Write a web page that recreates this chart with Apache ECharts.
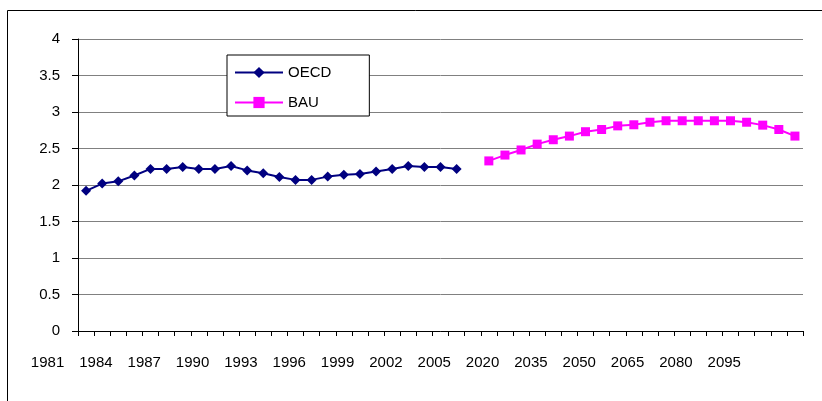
<!DOCTYPE html>
<html>
<head>
<meta charset="utf-8">
<script src="https://cdn.jsdelivr.net/npm/echarts@6/dist/echarts.min.js"></script>
<style>
html,body{margin:0;padding:0;background:#fff;}
#c{width:822px;height:401px;}
</style>
</head>
<body>
<div id="c"></div>
<script>
var categories = ['1981','1982','1983','1984','1985','1986','1987','1988','1989','1990',
  '1991','1992','1993','1994','1995','1996','1997','1998','1999','2000',
  '2001','2002','2003','2004','2005',
  '2010','2015','2020','2025','2030','2035','2040','2045','2050','2055',
  '2060','2065','2070','2075','2080','2085','2090','2095','2100','2105'];

var oecdValues = [1.92, 2.02, 2.05, 2.13, 2.22, 2.22, 2.245, 2.22, 2.22, 2.26,
  2.20, 2.16, 2.11, 2.07, 2.07, 2.115, 2.14, 2.15, 2.185, 2.22,
  2.26, 2.245, 2.245, 2.22, null,
  null, null, null, null, null, null, null, null, null, null,
  null, null, null, null, null, null, null, null, null, null];

var bauValues = [null, null, null, null, null, null, null, null, null, null,
  null, null, null, null, null, null, null, null, null, null,
  null, null, null, null, null,
  2.33, 2.41, 2.48, 2.56, 2.62, 2.67, 2.73, 2.76, 2.81, 2.825,
  2.86, 2.88, 2.88, 2.88, 2.88, 2.88, 2.86, 2.82, 2.76, 2.67];

var yTicks = {min: 0, max: 4, interval: 0.5};

var chart = echarts.init(document.getElementById('c'), null, {renderer: 'canvas'});
var font = 'Liberation Sans, Arial, sans-serif';
chart.setOption({
  animation: false,
  backgroundColor: '#ffffff',
  graphic: [{
    type: 'rect',
    shape: {x: 7.5, y: 10.5, width: 900, height: 500},
    style: {fill: 'none', stroke: '#000', lineWidth: 1},
    silent: true
  }],
  grid: {left: 78, right: 19, top: 39, bottom: 70},
  legend: {
    orient: 'vertical',
    left: 227,
    top: 55,
    padding: [10, 38, 6, 7],
    itemWidth: 48,
    itemHeight: 14,
    itemGap: 15,
    backgroundColor: '#fff',
    borderColor: '#000',
    borderWidth: 1,
    textStyle: {fontFamily: font, fontSize: 15, color: '#000'},
    data: ['OECD', 'BAU']
  },
  xAxis: {
    type: 'category',
    data: categories,
    boundaryGap: true,
    axisLine: {lineStyle: {color: '#000', width: 1}},
    axisTick: {show: true, interval: 0, length: 5, lineStyle: {color: '#000'}},
    axisLabel: {
      interval: 2,
      margin: 24,
      fontFamily: font,
      fontSize: 15,
      color: '#000',
      padding: [0, 77, 0, 0]
    },
    splitLine: {show: false}
  },
  yAxis: {
    type: 'value',
    min: yTicks.min,
    max: yTicks.max,
    interval: yTicks.interval,
    axisLine: {show: true, lineStyle: {color: '#000', width: 1}},
    axisTick: {show: true, length: 6, lineStyle: {color: '#000'}},
    axisLabel: {margin: 18, fontFamily: font, fontSize: 15, color: '#000'},
    splitLine: {show: true, lineStyle: {color: '#808080', width: 1}}
  },
  series: [{
    name: 'OECD',
    type: 'line',
    data: oecdValues,
    color: '#000080',
    symbol: 'diamond',
    symbolSize: 10,
    showAllSymbol: true,
    lineStyle: {color: '#000080', width: 2},
    itemStyle: {color: '#000080'}
  }, {
    name: 'BAU',
    type: 'line',
    data: bauValues,
    color: '#FF00FF',
    symbol: 'rect',
    symbolSize: 9,
    showAllSymbol: true,
    lineStyle: {color: '#FF00FF', width: 2},
    itemStyle: {color: '#FF00FF'}
  }]
});
</script>
</body>
</html>
